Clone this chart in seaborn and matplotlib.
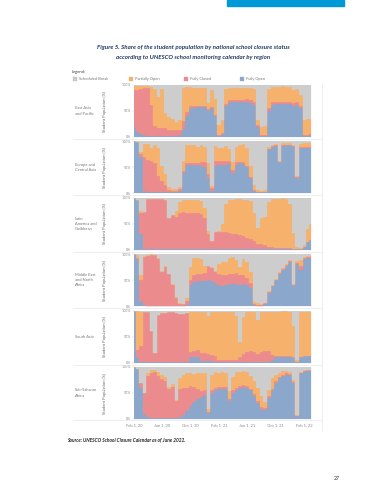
import numpy as np
import pandas as pd
import matplotlib
matplotlib.use("Agg")
import matplotlib.pyplot as plt
from matplotlib.patches import Rectangle
from matplotlib.lines import Line2D
import seaborn as sns

sns.set_style("white")
plt.rcParams['font.family'] = ['Lato', 'DejaVu Sans']

# sampling dates: 1st and 16th of each month, Feb 2020 -> Mar 2022
dates = pd.to_datetime([f"{2020 + m // 12}-{m % 12 + 1:02d}-{d:02d}"
                        for m in range(1, 26) for d in (1, 16)] + ["2022-03-01"])

regions = ["East Asia\nand Pacific", "Europe and\nCentral Asia", "Latin\nAmerica and\nCaribbean",
           "Middle East\nand North\nAfrica", "South Asia", "Sub-Saharan\nAfrica"]

# share of student population (%) per status
eap_open = [20, 10, 5, 3, 2, 2, 2, 2, 2, 2, 2, 2, 2, 3, 15, 40, 55, 56, 57, 57, 57, 50, 55, 40, 2, 5,
            60, 68, 68, 68, 68, 68, 68, 66, 62, 20, 2, 2, 50, 62, 63, 63, 63, 63, 63, 60, 62, 55, 2, 2, 3]
eap_closed = [70, 80, 88, 92, 93, 60, 20, 15, 15, 15, 12, 12, 12, 10, 15, 8, 4, 3, 3, 3, 3, 3, 3, 3, 2, 2,
              3, 3, 3, 3, 4, 4, 5, 5, 5, 3, 2, 2, 5, 5, 5, 5, 5, 5, 5, 5, 5, 4, 2, 2, 2]
eap_partial = [8, 8, 5, 3, 3, 35, 70, 60, 75, 30, 25, 20, 15, 20, 65, 48, 37, 36, 35, 35, 34, 12, 32, 30, 20, 25,
               30, 24, 24, 23, 23, 23, 22, 23, 25, 10, 16, 18, 38, 30, 29, 29, 30, 29, 29, 25, 25, 22, 28, 30, 30]

eca_open = [100, 98, 70, 5, 3, 3, 3, 3, 3, 2, 2, 2, 2, 5, 40, 55, 55, 55, 54, 52, 50, 30, 5, 52, 55, 55,
            55, 57, 40, 55, 58, 57, 50, 30, 5, 2, 2, 3, 85, 90, 92, 60, 92, 93, 93, 90, 30, 88, 87, 87, 87]
eca_closed = [0, 0, 5, 65, 62, 60, 55, 30, 20, 15, 5, 3, 3, 3, 3, 3, 3, 3, 5, 8, 10, 8, 5, 10, 8, 8,
              8, 6, 5, 5, 3, 3, 3, 2, 1, 1, 0, 0, 1, 1, 1, 1, 1, 1, 1, 1, 1, 2, 3, 3, 3]
eca_partial = [0, 0, 5, 25, 30, 25, 35, 55, 30, 20, 5, 3, 3, 5, 20, 35, 36, 36, 30, 33, 30, 20, 5, 30, 25, 25,
               28, 22, 15, 30, 32, 35, 35, 20, 10, 3, 2, 3, 3, 2, 2, 2, 3, 3, 3, 3, 2, 5, 6, 6, 6]

lac_open = [100, 95, 30, 2, 1, 1, 1, 1, 1, 1, 1, 1, 1, 1, 1, 1, 1, 1, 1, 1, 1, 1, 1, 1, 1, 1,
            1, 1, 1, 1, 1, 1, 1, 1, 1, 1, 1, 1, 1, 1, 1, 1, 2, 2, 2, 1, 1, 2, 5, 15, 18]
lac_closed = [0, 0, 40, 70, 97, 97, 97, 97, 96, 95, 60, 65, 63, 70, 72, 70, 70, 70, 70, 68, 60, 30, 15, 33, 33, 33,
              33, 32, 30, 30, 28, 25, 22, 20, 15, 10, 10, 8, 5, 4, 3, 3, 2, 2, 2, 1, 1, 0, 0, 0, 0]
lac_partial = [0, 0, 5, 0, 0, 0, 0, 0, 0, 0, 0, 0, 10, 20, 22, 25, 25, 25, 25, 25, 20, 5, 0, 0, 2, 15,
               55, 62, 65, 66, 68, 70, 73, 72, 55, 30, 50, 55, 85, 92, 94, 94, 95, 93, 85, 30, 3, 2, 5, 25, 32]

mena_open = [100, 90, 10, 2, 1, 1, 1, 1, 1, 1, 1, 1, 1, 1, 1, 2, 40, 47, 48, 48, 48, 50, 48, 45, 40, 38,
             40, 42, 42, 43, 40, 42, 40, 35, 3, 1, 1, 5, 25, 38, 50, 62, 70, 78, 85, 40, 82, 70, 90, 93, 93]
mena_closed = [0, 3, 40, 92, 96, 97, 97, 90, 65, 75, 60, 40, 15, 4, 3, 8, 10, 13, 13, 13, 15, 27, 25, 20, 22, 22,
               20, 20, 20, 20, 20, 18, 15, 10, 2, 2, 1, 1, 2, 1, 1, 1, 1, 1, 1, 1, 2, 8, 2, 1, 1]
mena_partial = [0, 5, 10, 3, 2, 2, 1, 1, 1, 1, 1, 1, 1, 1, 1, 5, 25, 32, 32, 30, 15, 0, 2, 2, 20, 25,
                25, 30, 33, 25, 15, 30, 30, 20, 3, 3, 3, 1, 3, 2, 2, 2, 2, 2, 2, 1, 3, 10, 3, 2, 2]

sa_open = [100, 10, 2, 1, 1, 1, 1, 1, 1, 1, 1, 1, 1, 1, 1, 1, 10, 10, 10, 3, 3, 3, 3, 2, 2, 2,
           2, 2, 2, 2, 2, 2, 2, 2, 2, 2, 2, 2, 2, 5, 10, 10, 10, 10, 10, 8, 1, 10, 12, 12, 12]
sa_closed = [0, 15, 30, 97, 97, 60, 18, 90, 95, 95, 96, 96, 95, 92, 93, 95, 10, 12, 14, 15, 15, 14, 12, 10, 3, 3,
             3, 3, 3, 3, 8, 15, 18, 20, 18, 15, 18, 20, 20, 10, 2, 2, 2, 2, 2, 2, 1, 1, 1, 1, 1]
sa_partial = [0, 75, 65, 0, 0, 0, 0, 0, 0, 0, 0, 0, 0, 0, 0, 0, 78, 76, 74, 80, 80, 72, 82, 85, 93, 93,
              93, 93, 93, 85, 30, 70, 78, 75, 78, 65, 78, 76, 76, 83, 86, 86, 87, 87, 86, 60, 3, 86, 85, 85, 85]

ssa_open = [100, 97, 60, 10, 3, 2, 2, 2, 2, 2, 2, 2, 2, 3, 8, 15, 25, 32, 38, 42, 47, 12, 50, 55, 57, 58,
            58, 35, 50, 56, 60, 62, 60, 55, 45, 30, 20, 18, 40, 55, 70, 78, 82, 85, 85, 70, 5, 88, 92, 93, 93]
ssa_closed = [0, 0, 10, 40, 80, 87, 88, 80, 75, 72, 55, 60, 32, 55, 52, 45, 38, 30, 20, 12, 8, 2, 5, 5, 5, 4,
              4, 3, 5, 4, 3, 3, 3, 3, 4, 4, 4, 4, 4, 3, 3, 3, 3, 3, 2, 2, 1, 1, 1, 1, 1]
ssa_partial = [0, 0, 0, 0, 5, 6, 5, 8, 8, 6, 5, 5, 3, 20, 25, 28, 25, 25, 30, 35, 33, 5, 30, 30, 27, 28,
               26, 15, 25, 30, 28, 27, 27, 25, 25, 25, 20, 10, 12, 20, 12, 8, 8, 5, 4, 3, 1, 2, 2, 1, 1]

status_data = [(eap_open, eap_closed, eap_partial), (eca_open, eca_closed, eca_partial),
               (lac_open, lac_closed, lac_partial), (mena_open, mena_closed, mena_partial),
               (sa_open, sa_closed, sa_partial), (ssa_open, ssa_closed, ssa_partial)]

legend_labels = ["Scheduled Break", "Partially Open", "Fully Closed", "Fully Open"]
c_break, c_partial, c_closed, c_open = "#cdcdcd", "#f6b26d", "#ec8b8e", "#8ba8cc"

tick_dates = pd.to_datetime(["2020-02-01", "2020-06-01", "2020-10-01", "2021-02-01",
                             "2021-06-01", "2021-10-01", "2022-02-01"])
tick_labels = ["Feb 1, 20", "Jun 1, 20", "Oct 1, 20", "Feb 1, 21", "Jun 1, 21", "Oct 1, 21", "Feb 1, 22"]

W, H = 386, 500
fig = plt.figure(figsize=(W / 100, H / 100), dpi=100)

def fx(px):
    return px / W

def fy(px):
    return 1 - px / H

# top banner
fig.patches.append(Rectangle((fx(227), fy(6)), fx(117), 6 / H, color="#0099d8",
                             transform=fig.transFigure, zorder=0))

title_kw = dict(ha="center", va="center", color="#1f3864", fontsize=4.4,
                fontweight="bold", fontstyle="italic")
fig.text(fx(193), fy(48), "Figure 5. Share of the student population by national school closure status", **title_kw)
fig.text(fx(193), fy(57), "according to UNESCO school monitoring calendar by region", **title_kw)

# legend
fig.text(fx(72), fy(72), "Legend:", fontsize=2.9, color="#333333", va="center")
for x0, lab, col in zip([73, 129, 184, 240], legend_labels, [c_break, c_partial, c_closed, c_open]):
    fig.patches.append(Rectangle((fx(x0), fy(81)), fx(4), 4 / H, facecolor=col,
                                 edgecolor="#aaaaaa" if col == c_break else col, linewidth=0.2,
                                 transform=fig.transFigure))
    fig.text(fx(x0 + 6), fy(79), lab, fontsize=2.9, color="#777777", va="center")

panel_h = 52
for k, (region, (s_open, s_closed, s_partial)) in enumerate(zip(regions, status_data)):
    top = 85 + k * 56.4
    ax = fig.add_axes([fx(134), fy(top + panel_h), fx(177), panel_h / H])
    layers = [np.array(s_open), np.array(s_closed), np.array(s_partial)]
    # scheduled break is the remainder up to 100%
    layers.append(100 - layers[0] - layers[1] - layers[2])
    base = np.zeros(len(dates))
    for vals, col in zip(layers, [c_open, c_closed, c_partial, c_break]):
        ax.fill_between(dates, base, base + vals, step="mid", color=col,
                        edgecolor=col, linewidth=0.15)
        base = base + vals
    ax.set_xlim(dates[0], dates[-1])
    ax.set_ylim(0, 100)
    ax.set_yticks([0, 50, 100])
    ax.set_yticklabels(["0%", "50%", "100%"])
    ax.tick_params(axis="y", labelsize=2.6, colors="#cccccc", labelcolor="#888888",
                   length=1.5, width=0.3, pad=1, left=True)
    ax.set_xticks(tick_dates)
    if k == 5:
        ax.set_xticklabels(tick_labels)
        ax.tick_params(axis="x", labelsize=3.0, labelcolor="#888888", length=0, pad=3)
    else:
        ax.set_xticklabels([])
        ax.tick_params(axis="x", length=0)
    sns.despine(ax=ax, left=True, bottom=True)
    ax.grid(False)

    cy = top + panel_h / 2
    fig.text(fx(75), fy(cy), region, fontsize=2.9, color="#777777", va="center", ha="left",
             linespacing=1.35)
    fig.text(fx(105), fy(cy), "Student Population (%)", fontsize=3.0, color="#666666",
             rotation=90, va="center", ha="center")
    # separator under each panel
    yline = fy(top + panel_h + 2) if k < 5 else fy(top + panel_h + 0.5)
    fig.lines.append(Line2D([fx(73), fx(322)], [yline, yline], color="#e2e2e2",
                            linewidth=0.4, transform=fig.transFigure))

fig.lines.append(Line2D([fx(322), fx(322)], [fy(83), fy(432)], color="#e2e2e2",
                        linewidth=0.4, transform=fig.transFigure))

fig.text(fx(67), fy(440), "Source: UNESCO School Closure Calendar as of June 2022.",
         fontsize=3.4, fontstyle="italic", fontweight="bold", color="#222222", va="center")
fig.text(fx(334), fy(478), "27", fontsize=3.8, color="#333333", va="center")

fig.savefig("out.png", dpi=100, facecolor="white")
